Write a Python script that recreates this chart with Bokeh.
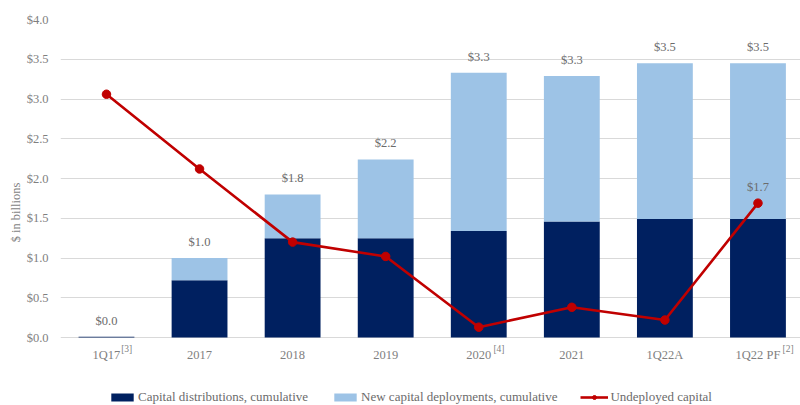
from bokeh.plotting import figure
from bokeh.models import (ColumnDataSource, Legend, LegendItem, FixedTicker,
                          Range1d, NumeralTickFormatter)
from bokeh.core.properties import value
from bokeh.embed import file_html
from bokeh.resources import INLINE

categories = ["1Q17", "2017", "2018", "2019", "2020", "2021", "1Q22A", "1Q22 PF"]
footnotes = ["[3]", "", "", "", "[4]", "", "", "[2]"]
distributions = [0.01, 0.72, 1.25, 1.25, 1.34, 1.46, 1.49, 1.49]
deployments = [0.0, 0.28, 0.55, 0.99, 1.99, 1.83, 1.96, 1.96]
total_labels = ["$0.0", "$1.0", "$1.8", "$2.2", "$3.3", "$3.3", "$3.5", "$3.5"]
undeployed = [3.06, 2.12, 1.20, 1.02, 0.13, 0.38, 0.22, 1.69]
undeployed_labels = ["", "", "", "", "", "", "", "$1.7"]
y_ticks = [0, 0.5, 1.0, 1.5, 2.0, 2.5, 3.0, 3.5, 4.0]

FONT = "Liberation Serif"
GREY = "#7f7f7f"
TXT = "#6b6b6b"
NAVY = "#002060"
LIGHT = "#9dc3e6"
RED = "#c00000"

xs = list(range(len(categories)))
tops = [d + n for d, n in zip(distributions, deployments)]
zeros = [0] * len(categories)
fn_offsets = [len(c) * 3.3 + 1.5 for c in categories]
src = ColumnDataSource(dict(x=xs, dist=distributions, dep=deployments, top=tops,
                            lab=total_labels, und=undeployed, ulab=undeployed_labels,
                            cat=categories, fn=footnotes, zero=zeros, fnoff=fn_offsets))

p = figure(width=800, height=405, output_backend="svg", toolbar_location=None,
           x_range=Range1d(-0.494, 7.457), y_range=Range1d(-0.855, 4.0),
           min_border_left=60, min_border_right=0, min_border_top=19, min_border_bottom=0)
p.outline_line_color = None
p.background_fill_color = "white"

b1 = p.vbar(x="x", top="dist", bottom=0, width=0.6, source=src, color=NAVY, line_color=None)
b2 = p.vbar(x="x", top="top", bottom="dist", width=0.6, source=src, color=LIGHT, line_color=None)
ln = p.line(x="x", y="und", source=src, line_color=RED, line_width=2.6)
sc = p.scatter(x="x", y="und", source=src, size=8.5, fill_color=RED, line_color=RED)

p.text(x="x", y="top", text="lab", source=src, text_align="center", text_baseline="middle",
       y_offset=-16, text_font=value(FONT), text_font_size="12.5px", text_color=TXT)
p.text(x="x", y="und", text="ulab", source=src, text_align="center", text_baseline="middle",
       y_offset=-16, text_font=value(FONT), text_font_size="12.5px", text_color=TXT)

# category labels under the baseline, with footnote superscripts
p.text(x="x", y="zero", text="cat", source=src, text_align="center", text_baseline="middle",
       y_offset=17, text_font=value(FONT), text_font_size="12.5px", text_color=GREY)
p.text(x="x", y="zero", text="fn", source=src, text_align="left", text_baseline="middle",
       x_offset="fnoff", y_offset=11, text_font=value(FONT), text_font_size="9.5px",
       text_color=GREY)

p.xaxis.visible = False

p.yaxis.ticker = FixedTicker(ticks=y_ticks)
p.yaxis.bounds = (0, 4.0)
p.yaxis.formatter = NumeralTickFormatter(format="$0.0")
p.yaxis.axis_line_color = None
p.yaxis.major_tick_line_color = None
p.yaxis.minor_tick_line_color = None
p.yaxis.major_label_text_font = FONT
p.yaxis.major_label_text_font_size = "12.5px"
p.yaxis.major_label_text_color = GREY
p.yaxis.major_label_standoff = 6
p.yaxis.axis_label = "$ in billions"
p.yaxis.axis_label_text_font = FONT
p.yaxis.axis_label_text_font_size = "12.5px"
p.yaxis.axis_label_text_font_style = "normal"
p.yaxis.axis_label_text_color = GREY
p.yaxis.axis_label_standoff = 1

p.xgrid.grid_line_color = None
p.ygrid.ticker = FixedTicker(ticks=y_ticks)
p.ygrid.grid_line_color = "#d9d9d9"
p.ygrid.grid_line_width = 1

legend = Legend(items=[
    LegendItem(label="Capital distributions, cumulative", renderers=[b1]),
    LegendItem(label="New capital deployments, cumulative", renderers=[b2]),
    LegendItem(label="Undeployed capital", renderers=[ln, sc]),
], orientation="horizontal", location=(48, 0))
legend.border_line_color = None
legend.background_fill_alpha = 0
legend.label_text_font = FONT
legend.label_text_font_size = "13px"
legend.label_text_color = TXT
legend.glyph_width = 28
legend.glyph_height = 10
legend.label_standoff = 2
legend.spacing = 23
legend.padding = 2
legend.margin = 0
p.add_layout(legend, "center")

open("out.html", "w").write(file_html(p, INLINE))
